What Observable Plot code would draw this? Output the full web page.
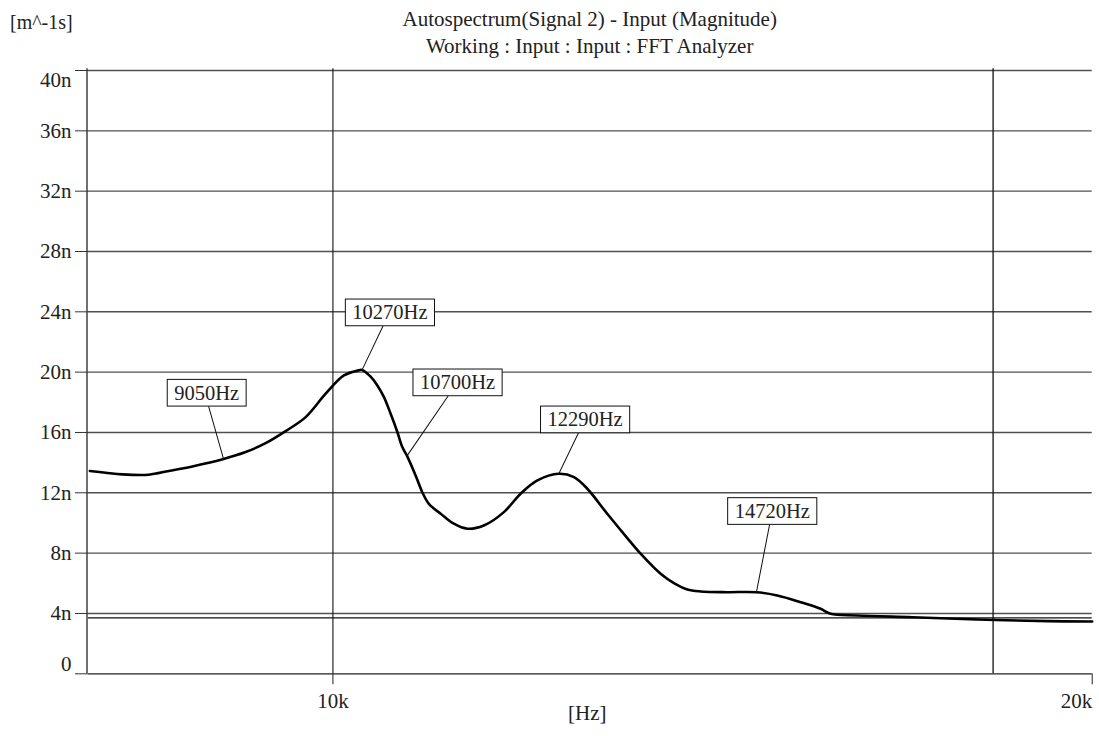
<!DOCTYPE html>
<html>
<head>
<meta charset="utf-8">
<title>Autospectrum(Signal 2) - Input (Magnitude)</title>
<script src="https://cdn.jsdelivr.net/npm/d3@7"></script>
<script src="https://cdn.jsdelivr.net/npm/@observablehq/plot@0.6"></script>
<style>
  html, body { margin: 0; padding: 0; background: #fff; }
  #chart {
    position: relative; width: 1099px; height: 736px; overflow: hidden;
    font-family: "Liberation Serif", "DejaVu Serif", serif; color: #222;
  }
  .hdr { position: absolute; white-space: nowrap; line-height: 1; }
  #unit { left: 10px; top: 11.5px; font-size: 20px; }
  #title1 { left: 589.7px; top: 9.2px; font-size: 21px; transform: translateX(-50%); }
  #title2 { left: 589.7px; top: 35.7px; font-size: 21px; transform: translateX(-50%); }
  #plot { position: absolute; left: 0; top: 60px; }
</style>
</head>
<body>
<div id="chart">
  <div class="hdr" id="unit">[m^-1s]</div>
  <div class="hdr" id="title1">Autospectrum(Signal 2) - Input (Magnitude)</div>
  <div class="hdr" id="title2">Working : Input : Input : FFT Analyzer</div>
  <div id="plot"></div>
</div>
<script>
// Frequency axis (log) ticks and labels
const xTicks = [10000, 20000];
const xTickLabels = ["10k", "20k"];

// Magnitude axis ticks (in units of n = 1e-9 m^-1 s) and labels
const yTicks = [0, 4, 8, 12, 16, 20, 24, 28, 32, 36, 40];
const yTickLabels = ["0", "4n", "8n", "12n", "16n", "20n", "24n", "28n", "32n", "36n", "40n"];

// Autospectrum of signal 2: frequency (Hz)
const freqHz = [
  8010, 8126, 8251, 8452, 8609, 8796, 9050, 9234, 9404, 9577,
  9754, 9934, 10101, 10240, 10270, 10350, 10414, 10477, 10541, 10605,
  10654, 10700, 10784, 10850, 10915, 11034, 11167, 11305, 11477, 11689,
  11869, 12052, 12290, 12461, 12614, 12846, 13083, 13243, 13487, 13652,
  13820, 13989, 14334, 14720, 15003, 15325, 15608, 15751, 16139, 16969,
  18007, 19220, 20000
];
// Autospectrum of signal 2: magnitude (n m^-1 s)
const magnitude = [
  13.45, 13.33, 13.22, 13.20, 13.45, 13.75, 14.24, 14.70, 15.29, 16.09,
  17.02, 18.57, 19.78, 20.12, 20.15, 19.70, 19.12, 18.34, 17.24, 16.05,
  15.03, 14.45, 13.15, 12.04, 11.27, 10.61, 9.95, 9.62, 9.83, 10.72,
  11.94, 12.82, 13.26, 13.04, 12.27, 10.61, 9.00, 7.96, 6.63, 6.01,
  5.59, 5.46, 5.41, 5.41, 5.19, 4.75, 4.31, 3.98, 3.87, 3.75,
  3.60, 3.49, 3.47
];

// Marked frequencies and the magnitude at each
const markerFreq = [9050, 10270, 10700, 12290, 14720];
const markerMag = [14.24, 20.15, 14.45, 13.26, 5.41];

// Cursor lines
const cursorFreq = [18270];
const cursorMag = [3.71];

// Label placement: leader end offset (px) from the marked point, and box shift
const leaderDX = [-14.9, 20.8, 40.9, 19.5, 13.1];
const leaderDY = [-52.5, -43.7, -59.7, -40.6, -67.4];
const boxShift = [-2, 7, 9.6, 6.8, 2.7];
const BOX_H = 26.7, BOX_PAD = 7;

const spectrum = freqHz.map((f, i) => ({f, m: magnitude[i]}));
const fmtX = d => xTickLabels[xTicks.indexOf(d)];
const fmtY = d => yTickLabels[yTicks.indexOf(d)];
const lineShape = {draw(context, l) { context.moveTo(0, 0); context.lineTo(0, -l); }};

const markerMarks = markerFreq.flatMap((f, i) => {
  const len = Math.hypot(leaderDX[i], leaderDY[i]);
  const ang = Math.atan2(leaderDX[i], -leaderDY[i]) * 180 / Math.PI;
  return [
    Plot.vector([i], {
      x: j => markerFreq[j], y: j => markerMag[j],
      length: len, rotate: ang, anchor: "start", shape: lineShape,
      stroke: "#111", strokeWidth: 1
    }),
    Plot.text([i], {
      x: j => markerFreq[j], y: j => markerMag[j],
      text: j => markerFreq[j] + "Hz",
      dx: leaderDX[i] + boxShift[i], dy: leaderDY[i] - BOX_H / 2,
      textAnchor: "middle", lineAnchor: "middle",
      fill: "#222", fontSize: 20.5, className: "ann"
    })
  ];
});

const chart = Plot.plot({
  width: 1099,
  height: 676,
  marginTop: 10,
  marginBottom: 62.7,
  marginLeft: 88,
  marginRight: 7.3,
  style: {fontFamily: "Liberation Serif, DejaVu Serif, serif", fontSize: "21px", color: "#222", background: "#fff", overflow: "visible"},
  x: {type: "log", domain: [8000, 20000], label: null},
  y: {domain: [0, 40], label: null},
  marks: [
    // horizontal grid
    Plot.ruleY(yTicks.filter(d => d > 0), {stroke: "#505050", strokeWidth: 1.4}),
    // vertical grid at the labelled frequency and the harmonic cursor
    Plot.ruleX([xTicks[0]], {y1: 0, y2: 40.12, stroke: "#111", strokeWidth: 1.1}),
    Plot.ruleX(cursorFreq, {y1: 0, y2: 40.12, stroke: "#111", strokeWidth: 1.3}),
    // level cursor
    Plot.ruleY(cursorMag, {stroke: "#111", strokeWidth: 1.2}),
    // baseline and left axis line
    Plot.ruleY([0], {stroke: "#222", strokeWidth: 1.2}),
    Plot.ruleX([8000], {y1: 0, y2: 40.12, dx: -1.5, stroke: "#111", strokeWidth: 1.2}),
    // axes
    Plot.axisY({ticks: yTicks, tickSize: 13, tickPadding: 4, label: null,
      tickFormat: d => (d === 0 || d === 40) ? "" : fmtY(d), stroke: "#333", fill: "#222"}),
    Plot.text([40], {y: d => d, frameAnchor: "left", dx: -17, dy: 10,
      text: fmtY, textAnchor: "end", lineAnchor: "middle", fill: "#222"}),
    Plot.text([0], {y: d => d, frameAnchor: "left", dx: -17, dy: -10,
      text: fmtY, textAnchor: "end", lineAnchor: "middle", fill: "#222"}),
    Plot.axisX({ticks: [xTicks[0]], tickSize: 11, tickPadding: 8, label: null,
      tickFormat: fmtX, stroke: "#222", fill: "#222"}),
    Plot.axisX({ticks: [xTicks[1]], tickSize: 11, tickPadding: 8, label: null,
      tickFormat: fmtX, textAnchor: "end", stroke: "#222", fill: "#222"}),
    Plot.text(["[Hz]"], {frameAnchor: "bottom", dx: -3, dy: 45.7, fill: "#222"}),
    // spectrum
    Plot.line(spectrum, {x: "f", y: "m", curve: "catmull-rom", stroke: "#000", strokeWidth: 2.6}),
    ...markerMarks
  ]
});

document.getElementById("plot").append(chart);

// framed boxes behind the frequency labels
d3.select(chart).selectAll("g.ann text").each(function () {
  const b = this.getBBox();
  const cy = b.y + b.height / 2;
  d3.select(this.parentNode).insert("rect", () => this)
    .attr("transform", this.getAttribute("transform"))
    .attr("x", b.x - BOX_PAD).attr("y", cy - BOX_H / 2)
    .attr("width", b.width + 2 * BOX_PAD).attr("height", BOX_H)
    .attr("fill", "#fff").attr("stroke", "#111").attr("stroke-width", 1);
});
</script>
</body>
</html>
